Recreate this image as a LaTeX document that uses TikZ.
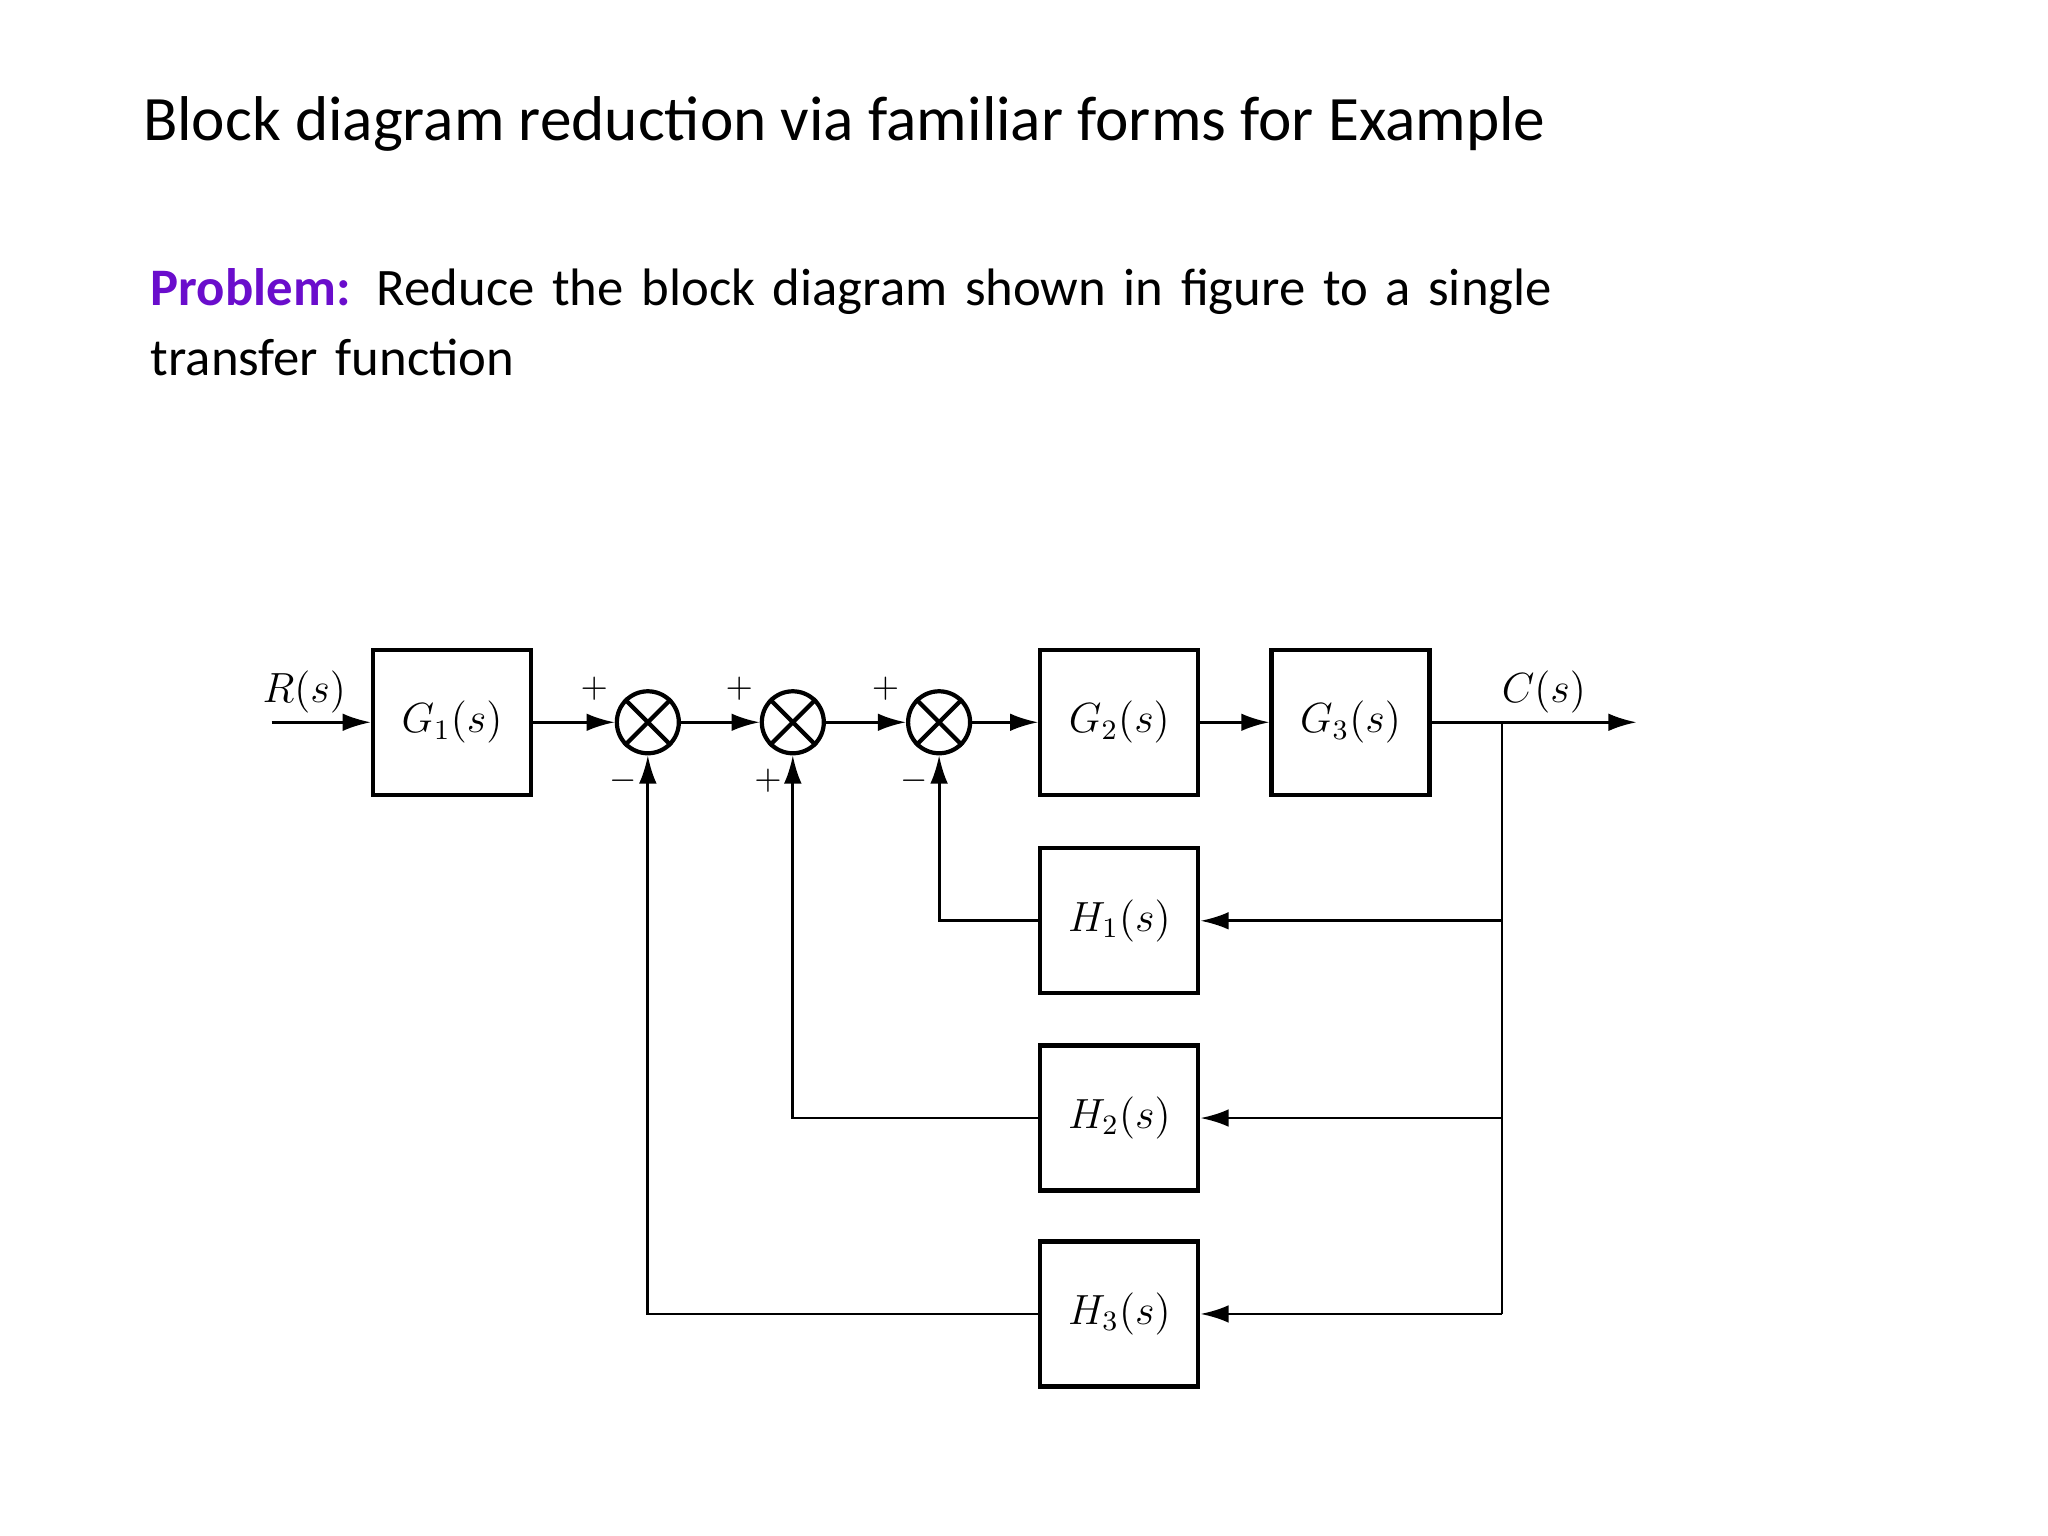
\documentclass[tikz,border=0pt]{standalone}
\usepackage{fontspec}
\setmainfont{Carlito}
\newfontfamily\tms{Liberation Serif}
\usetikzlibrary{arrows.meta,shapes.misc}
\begin{document}
\begin{tikzpicture}[x=0.01306cm,y=-0.01306cm,
  blk/.style={draw,line width=1.2pt,minimum width=1.58cm,minimum height=1.45cm,font=\tms\fontsize{12}{14}\selectfont},
  sum/.style={draw,line width=1.2pt,cross out,circle,minimum size=0.62cm,inner sep=0pt},
  sumc/.style={draw,line width=1.2pt,circle,minimum size=0.62cm,inner sep=0pt},
  sig/.style={-{Latex[length=8pt,width=5pt]},line width=0.8pt},
  sg/.style={font=\tms\fontsize{10}{12}\selectfont},
  lbl/.style={font=\tms\fontsize{12}{14}\selectfont}]
\useasboundingbox (0,0) rectangle (1568,1176);
\node[anchor=west,font=\fontsize{18}{22}\selectfont] (title) at (100,95) {Block diagram reduction via familiar forms for Example};
\node[anchor=north west,align=left,text width=15cm,font=\fontsize{15}{20}\selectfont] (prob) at (106,196)
  {{\color[HTML]{6A0DCC}\bfseries Problem:} Reduce the block diagram shown in figure to a single transfer function};
% blocks
\node[blk] (g1) at (346,553) {$G_1(s)$};
\node[blk] (g2) at (857,553) {$G_2(s)$};
\node[blk] (g3) at (1034,553) {$G_3(s)$};
\node[blk] (h1) at (857,705) {$H_1(s)$};
\node[blk] (h2) at (857,856) {$H_2(s)$};
\node[blk] (h3) at (857,1006) {$H_3(s)$};
\foreach \n/\x in {s1/496,s2/607,s3/719}{
  \node[sumc] (\n) at (\x,553) {};
  \draw[line width=1.2pt] (\n.north west) -- (\n.south east) (\n.north east) -- (\n.south west);
}
\coordinate (in) at (208,553);
\coordinate (out) at (1253,553);
\coordinate (br) at (1150,553);
% forward path
\draw[sig] (in) -- (g1);
\draw[sig] (g1) -- (s1);
\draw[sig] (s1) -- (s2);
\draw[sig] (s2) -- (s3);
\draw[sig] (s3) -- (g2);
\draw[sig] (g2) -- (g3);
\draw[sig] (g3) -- (out);
% feedback
\draw[line width=0.8pt] (br) -- (br |- h3);
\draw[sig] (br |- h1) -- (h1);
\draw[sig] (br |- h2) -- (h2);
\draw[sig] (br |- h3) -- (h3);
\draw[sig] (h1) -| (s3);
\draw[sig] (h2) -| (s2);
\draw[sig] (h3) -| (s1);
% labels
\node[lbl] (r) at (233,530) {$R(s)$};
\node[lbl] (c) at (1182,530) {$C(s)$};
\node[sg] at (455,527) {$+$};
\node[sg] at (477,598) {$-$};
\node[sg] at (566,527) {$+$};
\node[sg] at (588,598) {$+$};
\node[sg] at (678,527) {$+$};
\node[sg] at (700,598) {$-$};
\end{tikzpicture}
\end{document}
